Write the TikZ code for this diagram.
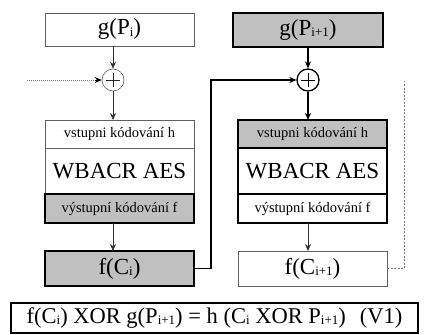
\documentclass[tikz,border=0pt]{standalone}
\usepackage{fontspec}
\setmainfont{Liberation Serif}
\usetikzlibrary{arrows.meta}
\definecolor{boxgray}{RGB}{192,192,192}
\definecolor{thinline}{RGB}{95,95,95}
\definecolor{dashgray}{RGB}{120,120,120}
\newcommand{\sbs}[1]{\raisebox{-1.5pt}{\fontsize{13}{13}\selectfont #1}}
\begin{document}
\begin{tikzpicture}[x=1pt,y=-1pt,
  thinbox/.style={draw=thinline,line width=0.6pt,fill=white,inner sep=0pt,outer sep=0pt},
  boldbox/.style={draw=black,line width=1.3pt,inner sep=0pt,outer sep=0pt},
  grayfill/.style={fill=boxgray},
  big/.style={font=\rmfamily\fontsize{23}{23}\selectfont},
  small/.style={font=\rmfamily\fontsize{14.5}{14.5}\selectfont},
  colw/.style={minimum width=149pt},
  thinxor/.style={circle,draw=thinline,line width=0.6pt,fill=white,minimum size=22pt,inner sep=0pt,
    path picture={\draw[black!85,line width=0.7pt] ([xshift=-7pt]path picture bounding box.center) -- ([xshift=7pt]path picture bounding box.center)
      ([yshift=-7pt]path picture bounding box.center) -- ([yshift=7pt]path picture bounding box.center);}},
  boldxor/.style={circle,draw=black,line width=1.3pt,fill=white,minimum size=22pt,inner sep=0pt,
    path picture={\draw[black,line width=0.8pt] ([xshift=-7pt]path picture bounding box.center) -- ([xshift=7pt]path picture bounding box.center)
      ([yshift=-7pt]path picture bounding box.center) -- ([yshift=7pt]path picture bounding box.center);}},
  thinarrow/.style={draw=black!80,line width=0.6pt,-{Stealth[length=7pt,width=6pt]}},
  boldarrow/.style={draw=black,line width=1.3pt,-{Stealth[length=7pt,width=6pt]}},
  dashline/.style={draw=dashgray,line width=0.6pt,dash pattern=on 2pt off 1.5pt}
]
\useasboundingbox (0,0) rectangle (427,334);

% left column
\node[thinbox,colw,minimum height=33pt,big] (gP1) at (119.5,29.5) {g(P\sbs{i})};
\node[thinxor] (xor1) at (113,80) {};
\node[thinbox,colw,minimum height=28pt,small] (vin1) at (119.5,134) {vstupni kódování h};
\node[thinbox,colw,minimum height=46pt,big] (wb1) at (119.5,171) {WBACR AES};
\node[boldbox,grayfill,colw,minimum height=29pt,small] (vout1) at (119.5,208.5) {výstupní kódování f};
\node[boldbox,grayfill,colw,minimum height=35pt,big] (fC1) at (119.5,268.5) {f(C\sbs{i})};

% right column
\node[boldbox,grayfill,minimum width=150pt,minimum height=34pt,big] (gP2) at (308,30) {g(P\sbs{i+1})};
\node[boldxor] (xor2) at (308,80) {};
\node[boldbox,fill=white,colw,minimum height=46pt,big] (wb2) at (312.5,171) {WBACR AES};
\node[boldbox,grayfill,colw,minimum height=28pt,small] (vin2) at (312.5,134) {vstupni kódování h};
\node[boldbox,fill=white,colw,minimum height=29pt,small] (vout2) at (312.5,208.5) {výstupní kódování f};
\node[thinbox,colw,minimum height=35pt,big] (fC2) at (312.5,268.5) {f(C\sbs{i+1})};

% equation
\node[boldbox,minimum width=407pt,minimum height=30pt,font=\rmfamily\fontsize{22.5}{22.5}\selectfont] (eq) at (214.5,318)
  {f(C\sbs{i}) XOR g(P\sbs{i+1}) = h (C\sbs{i} XOR P\sbs{i+1})\hspace{14pt}(V1)};

% connectors left
\coordinate (dotstart) at (27,80);
\draw[dashgray,line width=0.6pt,dash pattern=on 1pt off 1pt] (dotstart) -- ([xshift=-6pt]xor1.west);
\draw[black,line width=0.6pt,-{Stealth[length=7pt,width=6pt]}] ([xshift=-7pt]xor1.west) -- (xor1.west);
\draw[thinarrow] (gP1.south -| xor1) -- (xor1.north);
\draw[thinarrow] (xor1.south) -- (vin1.north -| xor1);
\draw[thinarrow] (vout1.south -| xor1) -- (fC1.north -| xor1);

% connectors right
\draw[boldarrow] (gP2.south -| xor2) -- (xor2.north);
\draw[boldarrow] (xor2.south) -- (vin2.north -| xor2);
\draw[thinarrow] (vout2.south -| xor2) -- (fC2.north -| xor2);

% feedback
\draw[boldarrow] (fC1.east) -- ++(17,0) |- (xor2.west);
\coordinate (dashtop) at (404,81);
\draw[dashline] (fC2.east) -| (dashtop);
\end{tikzpicture}
\end{document}
